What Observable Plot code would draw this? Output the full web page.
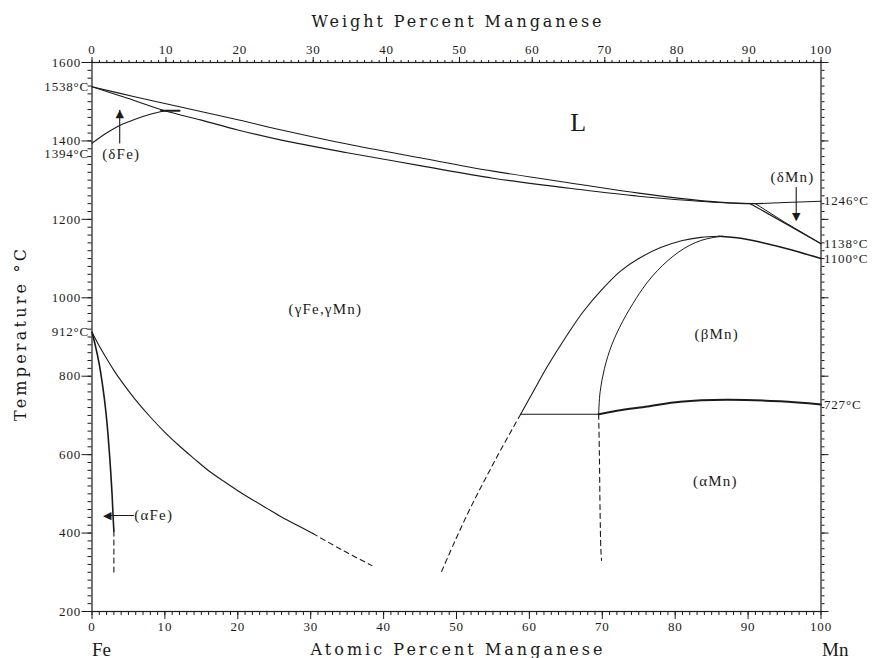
<!DOCTYPE html>
<html><head><meta charset="utf-8">
<script src="https://cdn.jsdelivr.net/npm/d3@7"></script>
<script src="https://cdn.jsdelivr.net/npm/@observablehq/plot@0.6"></script>
<style>body{margin:0;background:#fff}#chart{width:874px;height:658px}</style>
</head><body><div id="chart"></div><script>
// ---- data (x = atomic % Mn, t = temperature °C) ----
const atomicTicks = [0,10,20,30,40,50,60,70,80,90,100];
const weightTicks = [0,10,20,30,40,50,60,70,80,90,100];
const tempTicks = [200,400,600,800,1000,1200,1400,1600];

const liquidus = [[0,1538],[6,1512],[12,1487],[20,1454],[26,1428],[35,1392],[45,1357],[55,1323],[67,1289],[75,1267],[82,1251],[86,1244],[90.5,1240],[95,1243],[100,1246]];
const solidus = [[0,1538],[5,1508],[10,1477],[15,1453],[20,1428],[26,1402],[35,1370],[45,1337],[55,1305],[67,1276],[75,1259],[82,1248],[86,1243],[90.5,1240]];
const deltaFeSolvus = [[0,1394],[2,1420],[4,1441],[6,1456],[8,1468],[10,1477]];
const peritectic = [[9.5,1477],[12,1477]];
const deltaMnA = [[90.3,1240],[100,1138]];
const deltaMnB = [[91,1240],[95,1193],[100,1138]];
const gammaBetaOuter = [[58.8,703],[60.5,760],[62.5,826],[65,900],[67.4,965],[70,1022],[72.5,1068],[75,1100],[78,1128],[81,1146],[83.5,1154],[86,1157]];
const gammaBetaInner = [[69.5,703],[69.7,760],[70.3,820],[71.3,880],[72.8,940],[74.7,1000],[76.2,1040],[77.6,1070],[79,1095],[80.5,1117],[82,1134],[83.5,1146],[85,1153],[86.5,1157]];
const betaGammaMn = [[86,1157],[89,1152],[92.6,1138],[96,1122],[100,1100]];
const eutectoid = [[58.8,703],[69.5,703]];
const alphaBeta = [[69.5,703],[72,712],[76.2,723],[80.7,735],[87,740],[94.4,736],[100,728]];
const gammaAlphaDash = [[58.8,703],[56.3,620],[54,540],[51.8,460],[49.8,380],[47.9,300]];
const betaAlphaDash = [[69.5,703],[69.6,600],[69.7,450],[69.8,360],[69.9,330]];
const gammaAlphaFe = [[0,912],[1,877],[2,845],[3,815],[4,788],[6,739],[8,696],[10,657],[12,622],[14,590],[16,559],[18,533],[20,508],[22,485],[24,463],[26,441],[28,421],[30.3,399]];
const gammaAlphaFeDash = [[30.3,399],[34.2,358],[38.4,317]];
const alphaFeSolvus = [[0,912],[0.5,875],[1.0,830],[1.5,770],[1.9,710],[2.2,650],[2.5,575],[2.75,500],[2.9,440],[3.0,405]];
const alphaFeDash = [[3.0,405],[3.0,300]];

const regionNames = ["L","(δFe)","(δMn)","(γFe,γMn)","(βMn)","(αMn)"];
const regionX = [66.7,4.0,96.1,32.0,85.7,85.5];
const regionT = [1447,1365,1307,970,906,532];
const regionSize = [26,15,15,15,15,15];

const rightTemps = [1246,1138,1100,727];
const leftTemps = [1538,912];
const leftTempLow = [1394];

const arrowLines = [
  [[3.8,1395],[3.8,1478]],
  [[96.6,1281],[96.6,1200]],
  [[2.2,445],[5.7,445]]
];
const arrowHeads = [
  {x:3.8, t:1470, g:"▲"},
  {x:96.6, t:1208, g:"▼"},
  {x:2.1, t:445, g:"◀"}
];

// ---- helpers ----
const MFe = 55.845, MMn = 54.938;
const wtToAt = w => 100*(w/MMn)/((w/MMn)+((100-w)/MFe));
const pts = a => a.map(([x,t]) => ({x,t}));
const font = "'Liberation Serif','DejaVu Serif',serif";
const titleFont = "'DejaVu Serif','Liberation Serif',serif";
const ink = "#1a1a1a";
const lineOpts = (w=1.1, extra={}) => ({x:"x", y:"t", stroke:ink, strokeWidth:w, ...extra});
const weightPos = weightTicks.map(wtToAt);
const weightLabel = new Map(weightPos.map((p,i)=>[p, String(weightTicks[i])]));
const weightMinor = d3.range(0,101,1).map(wtToAt);
const curved = {curve:"catmull-rom"};
const dash = {strokeDasharray:"5,4"};
const blank = () => "";
const titles = ["Weight Percent Manganese","Atomic Percent Manganese","Temperature °C"];
const titleLengths = [290, 292, 172];

const chart = Plot.plot({
  width:874, height:658,
  marginLeft:91.5, marginRight:53.5, marginTop:62, marginBottom:47,
  x:{domain:[0,100]}, y:{domain:[200,1600]},
  style:{fontFamily:font, background:"#fff", color:ink, overflow:"visible"},
  marks:[
    Plot.frame({stroke:ink, strokeWidth:1.2}),
    // bottom axis
    Plot.axisX(d3.range(0,101,1), {anchor:"bottom", tickSize:4, tickFormat:blank, label:null, stroke:ink}),
    Plot.axisX(atomicTicks, {anchor:"bottom", tickSize:8, tickPadding:2, fontSize:13, label:null, stroke:ink, tickFormat:d=>String(d)}),
    // top axis (weight %)
    Plot.axisX(weightMinor, {anchor:"top", tickSize:3, tickFormat:blank, label:null, stroke:ink}),
    Plot.axisX(weightPos, {anchor:"top", tickSize:6, tickPadding:3, fontSize:13, label:null, stroke:ink,
      tickFormat:d=>weightLabel.get(d) ?? ""}),
    // left axis
    Plot.axisY(d3.range(200,1601,20), {anchor:"left", tickSize:4, tickFormat:blank, label:null, stroke:ink}),
    Plot.axisY(tempTicks, {anchor:"left", tickSize:10, tickPadding:1, fontSize:13, label:null, stroke:ink, tickFormat:d=>String(d)}),
    // right axis
    Plot.axisY(d3.range(200,1601,20), {anchor:"right", tickSize:3, tickFormat:blank, label:null, stroke:ink}),
    Plot.axisY(tempTicks, {anchor:"right", tickSize:7, tickFormat:blank, label:null, stroke:ink}),

    // phase boundaries
    Plot.line(pts(liquidus), lineOpts(1.1, curved)),
    Plot.line(pts(solidus), lineOpts(1.1, curved)),
    Plot.line(pts(deltaFeSolvus), lineOpts(1.1, curved)),
    Plot.line(pts(peritectic), lineOpts(2.2)),
    Plot.line(pts(deltaMnA), lineOpts(1.2)),
    Plot.line(pts(deltaMnB), lineOpts(1.0)),
    Plot.line(pts(gammaBetaOuter), lineOpts(1.1, curved)),
    Plot.line(pts(gammaBetaInner), lineOpts(1.0, curved)),
    Plot.line(pts(betaGammaMn), lineOpts(1.6, curved)),
    Plot.line(pts(eutectoid), lineOpts(1.1)),
    Plot.line(pts(alphaBeta), lineOpts(2.0, curved)),
    Plot.line(pts(gammaAlphaDash), lineOpts(1.1, {...curved, ...dash})),
    Plot.line(pts(betaAlphaDash), lineOpts(1.1, {...curved, ...dash})),
    Plot.line(pts(gammaAlphaFe), lineOpts(1.1, curved)),
    Plot.line(pts(gammaAlphaFeDash), lineOpts(1.1, {...curved, ...dash})),
    Plot.line(pts(alphaFeSolvus), lineOpts(1.6, curved)),
    Plot.line(pts(alphaFeDash), lineOpts(1.1, dash)),

    // arrows
    ...arrowLines.map(a => Plot.line(pts(a), lineOpts(1.1))),
    Plot.text(arrowHeads, {x:"x", y:"t", text:"g", fontSize:11, fill:ink, fontFamily:"DejaVu Sans"}),

    // region labels
    Plot.text(regionNames.map((s,i)=>({s, x:regionX[i], t:regionT[i], f:regionSize[i]})),
      {x:"x", y:"t", text:"s", fontSize:d=>d.f, fill:ink}),
    Plot.text([{s:"(αFe)", x:5.8, t:445}], {x:"x", y:"t", text:"s", textAnchor:"start", fontSize:15, fill:ink}),

    // special temperatures
    Plot.text(rightTemps, {x:()=>100, y:d=>d, text:d=>`${d}°C`, textAnchor:"start", dx:3, fontSize:13, fill:ink}),
    Plot.text(leftTemps, {x:()=>0, y:d=>d, text:d=>`${d}°C`, textAnchor:"end", dx:-3, fontSize:13, fill:ink}),
    Plot.text(leftTempLow, {x:()=>0, y:d=>d, text:d=>`${d}°C`, textAnchor:"end", dx:-3, dy:11, fontSize:13, fill:ink}),

    // titles
    Plot.text([titles[0]], {frameAnchor:"top", dy:-47, fontSize:16, fontFamily:titleFont, fill:ink}),
    Plot.text([titles[1]], {frameAnchor:"bottom", dy:43, fontSize:16, fontFamily:titleFont, fill:ink}),
    Plot.text([titles[2]], {frameAnchor:"left", textAnchor:"middle", dx:-71, dy:-2, rotate:-90, fontSize:16, fontFamily:titleFont, fill:ink}),
    Plot.text(["Fe"], {x:()=>0, frameAnchor:"bottom", textAnchor:"start", dy:44, fontSize:19, fill:ink}),
    Plot.text(["Mn"], {x:()=>100, frameAnchor:"bottom", textAnchor:"start", dy:44, dx:1, fontSize:19, fill:ink})
  ]
});
// spacing styling
d3.select(chart).selectAll("text").each(function(){
  const s = this.textContent;
  const ti = titles.indexOf(s);
  if (ti >= 0) { this.setAttribute("textLength", titleLengths[ti]); this.setAttribute("lengthAdjust", "spacing"); }
  else if (regionNames.includes(s) || s === "(αFe)") this.setAttribute("letter-spacing", s === "L" ? "0" : "1.2");
  else if (/^\d/.test(s)) this.setAttribute("letter-spacing", "0.8");
});
document.getElementById("chart").append(chart);
</script></body></html>
